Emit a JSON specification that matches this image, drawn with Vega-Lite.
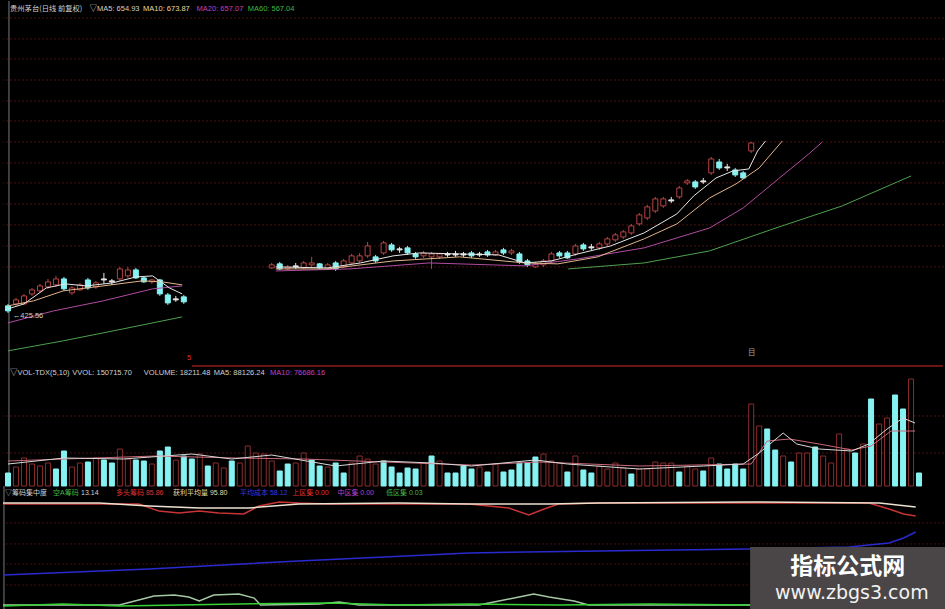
{
"$schema": "https://vega.github.io/schema/vega-lite/v6.json",
"background": "#000000",
"padding": 0,
"spacing": 0,
"bounds": "flush",
"config": {"view": {"stroke": null}, "legend": {"disable": true}},
"datasets": {
"border": [{"i": 0.12}],
"pgrid": [{"p":741.5},{"p":718.7},{"p":696.9},{"p":674.0},{"p":651.2},{"p":629.4},{"p":606.6},{"p":583.7},{"p":562.0},{"p":539.1},{"p":516.3},{"p":493.4},{"p":470.6}],
"candles": [
{"i":0,"o":428.2,"c":422.7,"h":430.3,"l":420.5,"t":"d"},
{"i":1,"o":430.3,"c":434.7,"h":436.9,"l":428.2,"t":"u"},
{"i":2,"o":430.3,"c":439.0,"h":441.2,"l":429.2,"t":"u"},
{"i":3,"o":441.2,"c":445.6,"h":447.7,"l":439.0,"t":"u"},
{"i":4,"o":444.5,"c":449.9,"h":452.1,"l":442.3,"t":"u"},
{"i":5,"o":448.8,"c":454.3,"h":457.5,"l":446.7,"t":"u"},
{"i":6,"o":451.0,"c":457.5,"h":460.8,"l":448.8,"t":"u"},
{"i":7,"o":457.5,"c":446.7,"h":459.7,"l":444.5,"t":"d"},
{"i":8,"o":442.3,"c":447.7,"h":449.9,"l":440.1,"t":"u"},
{"i":9,"o":445.6,"c":451.0,"h":453.2,"l":444.5,"t":"u"},
{"i":10,"o":456.4,"c":447.7,"h":458.6,"l":445.6,"t":"d"},
{"i":11,"o":448.8,"c":453.2,"h":455.4,"l":446.7,"t":"u"},
{"i":12,"o":456.4,"c":457.5,"h":464.1,"l":452.1,"t":"x"},
{"i":13,"o":454.3,"c":455.4,"h":457.5,"l":451.0,"t":"x"},
{"i":14,"o":457.5,"c":468.4,"h":470.6,"l":455.4,"t":"u"},
{"i":15,"o":460.8,"c":467.3,"h":470.6,"l":458.6,"t":"u"},
{"i":16,"o":467.3,"c":458.6,"h":469.5,"l":457.5,"t":"d"},
{"i":17,"o":458.6,"c":454.3,"h":459.7,"l":453.2,"t":"d"},
{"i":18,"o":454.3,"c":456.4,"h":457.5,"l":452.1,"t":"u"},
{"i":19,"o":456.4,"c":441.2,"h":457.5,"l":439.0,"t":"d"},
{"i":20,"o":440.1,"c":431.4,"h":442.3,"l":429.2,"t":"d"},
{"i":21,"o":434.7,"c":435.8,"h":439.0,"l":432.5,"t":"x"},
{"i":22,"o":438.0,"c":432.5,"h":440.1,"l":430.3,"t":"d"},
{"i":33,"o":469.5,"c":472.8,"h":474.9,"l":468.4,"t":"u"},
{"i":34,"o":473.9,"c":468.4,"h":476.0,"l":467.3,"t":"d"},
{"i":35,"o":468.4,"c":470.6,"h":472.8,"l":467.3,"t":"u"},
{"i":36,"o":470.6,"c":471.7,"h":474.9,"l":468.4,"t":"x"},
{"i":37,"o":469.5,"c":474.9,"h":477.1,"l":468.4,"t":"u"},
{"i":38,"o":472.8,"c":474.9,"h":481.5,"l":470.6,"t":"u"},
{"i":39,"o":473.9,"c":469.5,"h":474.9,"l":468.4,"t":"d"},
{"i":40,"o":469.5,"c":472.8,"h":474.9,"l":467.3,"t":"u"},
{"i":41,"o":474.9,"c":468.4,"h":477.1,"l":466.2,"t":"d"},
{"i":42,"o":470.6,"c":477.1,"h":479.3,"l":469.5,"t":"u"},
{"i":43,"o":474.9,"c":482.6,"h":484.7,"l":473.9,"t":"u"},
{"i":44,"o":477.1,"c":482.6,"h":485.8,"l":474.9,"t":"u"},
{"i":45,"o":482.6,"c":493.4,"h":497.8,"l":480.4,"t":"u"},
{"i":46,"o":481.5,"c":477.1,"h":483.6,"l":474.9,"t":"d"},
{"i":47,"o":485.8,"c":496.7,"h":498.9,"l":483.6,"t":"u"},
{"i":48,"o":494.5,"c":489.1,"h":496.7,"l":486.9,"t":"d"},
{"i":49,"o":489.1,"c":490.2,"h":492.4,"l":485.8,"t":"x"},
{"i":50,"o":491.3,"c":485.8,"h":493.4,"l":483.6,"t":"d"},
{"i":51,"o":484.7,"c":481.5,"h":486.9,"l":479.3,"t":"d"},
{"i":52,"o":482.6,"c":485.8,"h":488.0,"l":480.4,"t":"u"},
{"i":53,"o":481.5,"c":484.7,"h":486.9,"l":468.4,"t":"u"},
{"i":54,"o":481.5,"c":484.7,"h":485.8,"l":479.3,"t":"u"},
{"i":55,"o":483.6,"c":484.7,"h":486.9,"l":481.5,"t":"x"},
{"i":56,"o":483.6,"c":484.7,"h":488.0,"l":481.5,"t":"x"},
{"i":57,"o":483.6,"c":484.7,"h":486.9,"l":481.5,"t":"x"},
{"i":58,"o":485.8,"c":482.6,"h":488.0,"l":480.4,"t":"d"},
{"i":59,"o":483.6,"c":484.7,"h":486.9,"l":481.5,"t":"x"},
{"i":60,"o":486.9,"c":483.6,"h":489.1,"l":481.5,"t":"d"},
{"i":61,"o":483.6,"c":486.9,"h":489.1,"l":482.6,"t":"u"},
{"i":62,"o":489.1,"c":485.8,"h":491.3,"l":483.6,"t":"d"},
{"i":63,"o":485.8,"c":488.0,"h":490.2,"l":483.6,"t":"u"},
{"i":64,"o":484.7,"c":476.0,"h":486.9,"l":473.9,"t":"d"},
{"i":65,"o":477.1,"c":472.8,"h":479.3,"l":470.6,"t":"d"},
{"i":66,"o":470.6,"c":473.9,"h":476.0,"l":469.5,"t":"u"},
{"i":67,"o":472.8,"c":477.1,"h":479.3,"l":470.6,"t":"u"},
{"i":68,"o":477.1,"c":484.7,"h":486.9,"l":474.9,"t":"u"},
{"i":69,"o":485.8,"c":482.6,"h":488.0,"l":480.4,"t":"d"},
{"i":70,"o":485.8,"c":480.4,"h":488.0,"l":479.3,"t":"d"},
{"i":71,"o":484.7,"c":493.4,"h":495.6,"l":482.6,"t":"u"},
{"i":72,"o":494.5,"c":490.2,"h":496.7,"l":488.0,"t":"d"},
{"i":73,"o":491.3,"c":492.4,"h":495.6,"l":489.1,"t":"x"},
{"i":74,"o":491.3,"c":495.6,"h":497.8,"l":489.1,"t":"u"},
{"i":75,"o":495.6,"c":501.1,"h":503.2,"l":493.4,"t":"u"},
{"i":76,"o":500.0,"c":505.4,"h":507.6,"l":497.8,"t":"u"},
{"i":77,"o":503.2,"c":508.7,"h":510.8,"l":501.1,"t":"u"},
{"i":78,"o":507.6,"c":515.2,"h":517.4,"l":505.4,"t":"u"},
{"i":79,"o":517.4,"c":527.2,"h":529.3,"l":515.2,"t":"u"},
{"i":80,"o":523.9,"c":535.9,"h":538.0,"l":521.7,"t":"u"},
{"i":81,"o":531.5,"c":544.6,"h":546.8,"l":529.3,"t":"u"},
{"i":82,"o":537.0,"c":544.6,"h":546.8,"l":534.8,"t":"u"},
{"i":83,"o":542.4,"c":543.5,"h":546.8,"l":540.2,"t":"x"},
{"i":84,"o":546.8,"c":556.5,"h":558.7,"l":544.6,"t":"u"},
{"i":85,"o":562.0,"c":564.2,"h":566.3,"l":559.8,"t":"u"},
{"i":86,"o":563.1,"c":557.6,"h":565.2,"l":555.5,"t":"d"},
{"i":87,"o":563.1,"c":564.2,"h":567.4,"l":560.9,"t":"x"},
{"i":88,"o":572.9,"c":588.1,"h":590.3,"l":570.7,"t":"u"},
{"i":89,"o":584.8,"c":578.3,"h":588.1,"l":576.1,"t":"d"},
{"i":90,"o":578.3,"c":579.4,"h":582.7,"l":575.0,"t":"x"},
{"i":91,"o":576.1,"c":570.7,"h":578.3,"l":568.5,"t":"d"},
{"i":92,"o":572.9,"c":567.4,"h":575.0,"l":566.3,"t":"d"},
{"i":93,"o":596.8,"c":605.5,"h":606.6,"l":594.6,"t":"u"}
],
"pma": [
{"s":"MA60","seg":"L","i":0,"p":379.2},{"s":"MA60","seg":"L","i":6.9,"p":390.1},{"s":"MA60","seg":"L","i":14.4,"p":403.1},{"s":"MA60","seg":"L","i":21.8,"p":416.2},
{"s":"MA20","seg":"L","i":0,"p":409.7},{"s":"MA20","seg":"L","i":5.7,"p":422.7},{"s":"MA20","seg":"L","i":11.9,"p":433.6},{"s":"MA20","seg":"L","i":18.1,"p":446.7},{"s":"MA20","seg":"L","i":21.8,"p":449.9},
{"s":"MA10","seg":"L","i":0,"p":428.2},{"s":"MA10","seg":"L","i":3.2,"p":433.6},{"s":"MA10","seg":"L","i":6.9,"p":444.5},{"s":"MA10","seg":"L","i":11.9,"p":449.9},{"s":"MA10","seg":"L","i":16.8,"p":455.4},{"s":"MA10","seg":"L","i":19.3,"p":454.3},{"s":"MA10","seg":"L","i":21.8,"p":451.0},
{"s":"MA5","seg":"L","i":0,"p":424.9},{"s":"MA5","seg":"L","i":2,"p":430.3},{"s":"MA5","seg":"L","i":4.8,"p":447.7},{"s":"MA5","seg":"L","i":7.2,"p":452.1},{"s":"MA5","seg":"L","i":9.8,"p":449.9},{"s":"MA5","seg":"L","i":13.1,"p":453.2},{"s":"MA5","seg":"L","i":16,"p":459.7},{"s":"MA5","seg":"L","i":18.1,"p":460.8},{"s":"MA5","seg":"L","i":20.2,"p":447.7},{"s":"MA5","seg":"L","i":21.8,"p":441.2},
{"s":"MA60","seg":"R","i":70.1,"p":468.4},{"s":"MA60","seg":"R","i":79.6,"p":474.9},{"s":"MA60","seg":"R","i":87.8,"p":488.0},{"s":"MA60","seg":"R","i":96.1,"p":513.0},{"s":"MA60","seg":"R","i":104.4,"p":537.0},{"s":"MA60","seg":"R","i":113,"p":569.6},
{"s":"MA20","seg":"R","i":33.5,"p":466.2},{"s":"MA20","seg":"R","i":42.8,"p":468.4},{"s":"MA20","seg":"R","i":52.7,"p":474.9},{"s":"MA20","seg":"R","i":64.7,"p":471.7},{"s":"MA20","seg":"R","i":71.3,"p":479.3},{"s":"MA20","seg":"R","i":79.6,"p":491.3},{"s":"MA20","seg":"R","i":87.8,"p":513.0},{"s":"MA20","seg":"R","i":92,"p":534.8},{"s":"MA20","seg":"R","i":96.1,"p":564.2},{"s":"MA20","seg":"R","i":100.2,"p":593.5},{"s":"MA20","seg":"R","i":101.9,"p":606.6},
{"s":"MA10","seg":"R","i":33.5,"p":468.4},{"s":"MA10","seg":"R","i":40,"p":468.4},{"s":"MA10","seg":"R","i":48.2,"p":477.1},{"s":"MA10","seg":"R","i":56.5,"p":481.5},{"s":"MA10","seg":"R","i":64.7,"p":474.9},{"s":"MA10","seg":"R","i":68.8,"p":473.9},{"s":"MA10","seg":"R","i":73.8,"p":481.5},{"s":"MA10","seg":"R","i":79.6,"p":501.1},{"s":"MA10","seg":"R","i":83.7,"p":517.4},{"s":"MA10","seg":"R","i":87.8,"p":545.7},{"s":"MA10","seg":"R","i":91.1,"p":560.9},{"s":"MA10","seg":"R","i":94,"p":578.3},{"s":"MA10","seg":"R","i":96.9,"p":607.7},
{"s":"MA5","seg":"R","i":33.5,"p":470.6},{"s":"MA5","seg":"R","i":40,"p":469.5},{"s":"MA5","seg":"R","i":44.1,"p":474.9},{"s":"MA5","seg":"R","i":48.2,"p":482.6},{"s":"MA5","seg":"R","i":51.5,"p":485.8},{"s":"MA5","seg":"R","i":56.5,"p":484.7},{"s":"MA5","seg":"R","i":61.4,"p":483.6},{"s":"MA5","seg":"R","i":64.7,"p":474.9},{"s":"MA5","seg":"R","i":68,"p":477.1},{"s":"MA5","seg":"R","i":71.3,"p":484.7},{"s":"MA5","seg":"R","i":75.4,"p":493.4},{"s":"MA5","seg":"R","i":79.6,"p":507.6},{"s":"MA5","seg":"R","i":83.7,"p":528.3},{"s":"MA5","seg":"R","i":85.8,"p":547.8},{"s":"MA5","seg":"R","i":88.6,"p":567.4},{"s":"MA5","seg":"R","i":90.7,"p":575.0},{"s":"MA5","seg":"R","i":92.7,"p":577.2},{"s":"MA5","seg":"R","i":93.8,"p":596.8},{"s":"MA5","seg":"R","i":94.8,"p":607.7}
],
"ptext": [
{"i":10.2,"p":751,"label":"▽MA5: 654.93","k":"w"},
{"i":16.9,"p":751,"label":"MA10: 673.87","k":"y"},
{"i":23.6,"p":751,"label":"MA20: 657.07","k":"m"},
{"i":30.0,"p":751,"label":"MA60: 567.04","k":"g"},
{"i":0.6,"p":417.3,"label":"←425.56","k":"w"},
{"i":22.4,"p":371,"label":"5","k":"r"},
{"i":92.6,"p":377,"label":"目","k":"gy"}
],
"ptitle": [{"i":0.25,"p":751,"label":"贵州茅台(日线 前复权)"}],
"vgrid": [{"v":98000},{"v":46200}],
"vtop": [{"i":23,"i2":117,"v":168000}],
"vol": [
{"i":0,"v":18200,"t":"d"},{"i":1,"v":26600,"t":"u"},{"i":2,"v":39200,"t":"u"},{"i":3,"v":30800,"t":"u"},{"i":4,"v":28000,"t":"u"},{"i":5,"v":32200,"t":"u"},{"i":6,"v":23800,"t":"d"},{"i":7,"v":49000,"t":"d"},{"i":8,"v":26600,"t":"u"},{"i":9,"v":32200,"t":"u"},
{"i":10,"v":33600,"t":"d"},{"i":11,"v":39200,"t":"u"},{"i":12,"v":36400,"t":"d"},{"i":13,"v":32200,"t":"d"},{"i":14,"v":51800,"t":"u"},{"i":15,"v":37800,"t":"u"},{"i":16,"v":36400,"t":"d"},{"i":17,"v":35000,"t":"d"},{"i":18,"v":30800,"t":"u"},{"i":19,"v":49000,"t":"d"},
{"i":20,"v":54600,"t":"d"},{"i":21,"v":36400,"t":"u"},{"i":22,"v":42000,"t":"d"},{"i":23,"v":37800,"t":"d"},{"i":24,"v":44800,"t":"u"},{"i":25,"v":28000,"t":"d"},{"i":26,"v":32200,"t":"u"},{"i":27,"v":25200,"t":"u"},{"i":28,"v":35000,"t":"d"},{"i":29,"v":32200,"t":"u"},
{"i":30,"v":56000,"t":"u"},{"i":31,"v":46200,"t":"u"},{"i":32,"v":44800,"t":"u"},{"i":33,"v":35000,"t":"u"},{"i":34,"v":21000,"t":"d"},{"i":35,"v":30800,"t":"d"},{"i":36,"v":32200,"t":"u"},{"i":37,"v":46200,"t":"u"},{"i":38,"v":36400,"t":"d"},{"i":39,"v":28000,"t":"d"},
{"i":40,"v":26600,"t":"u"},{"i":41,"v":32200,"t":"d"},{"i":42,"v":18200,"t":"d"},{"i":43,"v":32200,"t":"u"},{"i":44,"v":42000,"t":"u"},{"i":45,"v":37800,"t":"u"},{"i":46,"v":30800,"t":"u"},{"i":47,"v":35000,"t":"d"},{"i":48,"v":26600,"t":"d"},{"i":49,"v":18200,"t":"d"},
{"i":50,"v":25200,"t":"d"},{"i":51,"v":23800,"t":"d"},{"i":52,"v":32200,"t":"u"},{"i":53,"v":42000,"t":"d"},{"i":54,"v":35000,"t":"u"},{"i":55,"v":18200,"t":"d"},{"i":56,"v":18200,"t":"d"},{"i":57,"v":28000,"t":"d"},{"i":58,"v":23800,"t":"d"},{"i":59,"v":26600,"t":"u"},
{"i":60,"v":19600,"t":"d"},{"i":61,"v":30800,"t":"u"},{"i":62,"v":19600,"t":"d"},{"i":63,"v":22400,"t":"d"},{"i":64,"v":32200,"t":"d"},{"i":65,"v":32200,"t":"d"},{"i":66,"v":40600,"t":"d"},{"i":67,"v":44800,"t":"u"},{"i":68,"v":35000,"t":"u"},{"i":69,"v":32200,"t":"u"},
{"i":70,"v":19600,"t":"d"},{"i":71,"v":42000,"t":"u"},{"i":72,"v":22400,"t":"d"},{"i":73,"v":18200,"t":"d"},{"i":74,"v":28000,"t":"u"},{"i":75,"v":23800,"t":"u"},{"i":76,"v":32200,"t":"u"},{"i":77,"v":25200,"t":"u"},{"i":78,"v":16800,"t":"d"},{"i":79,"v":23800,"t":"u"},
{"i":80,"v":23800,"t":"u"},{"i":81,"v":33600,"t":"u"},{"i":82,"v":32200,"t":"u"},{"i":83,"v":32200,"t":"u"},{"i":84,"v":19600,"t":"d"},{"i":85,"v":28000,"t":"u"},{"i":86,"v":23800,"t":"u"},{"i":87,"v":21000,"t":"d"},{"i":88,"v":39200,"t":"u"},{"i":89,"v":30800,"t":"d"},
{"i":90,"v":23800,"t":"d"},{"i":91,"v":30800,"t":"d"},{"i":92,"v":23800,"t":"d"},{"i":93,"v":114800,"t":"u"},{"i":94,"v":84000,"t":"u"},{"i":95,"v":79800,"t":"d"},{"i":96,"v":50400,"t":"d"},{"i":97,"v":42000,"t":"u"},{"i":98,"v":33600,"t":"d"},{"i":99,"v":46200,"t":"u"},
{"i":100,"v":46200,"t":"u"},{"i":101,"v":54600,"t":"d"},{"i":102,"v":42000,"t":"u"},{"i":103,"v":32200,"t":"u"},{"i":104,"v":72800,"t":"u"},{"i":105,"v":51800,"t":"u"},{"i":106,"v":46200,"t":"d"},{"i":107,"v":58800,"t":"u"},{"i":108,"v":121800,"t":"d"},{"i":109,"v":86800,"t":"u"},
{"i":110,"v":95200,"t":"u"},{"i":111,"v":127400,"t":"d"},{"i":112,"v":107800,"t":"d"},{"i":113,"v":149800,"t":"u"},{"i":114,"v":18200,"t":"d"}
],
"vma": [
{"s":"MA10","i":0,"v":35000},{"s":"MA10","i":7,"v":37800},{"s":"MA10","i":18.5,"v":42000},{"s":"MA10","i":28.5,"v":39200},{"s":"MA10","i":37,"v":37800},{"s":"MA10","i":47,"v":33600},{"s":"MA10","i":58,"v":29400},{"s":"MA10","i":66.5,"v":33600},{"s":"MA10","i":79,"v":28000},{"s":"MA10","i":93,"v":30800},{"s":"MA10","i":95,"v":63000},{"s":"MA10","i":97.8,"v":65800},{"s":"MA10","i":101.5,"v":58800},{"s":"MA10","i":105.6,"v":50400},{"s":"MA10","i":108,"v":56000},{"s":"MA10","i":110.5,"v":77000},{"s":"MA10","i":113.5,"v":77000},
{"s":"MA5","i":0,"v":30800},{"s":"MA5","i":7,"v":39200},{"s":"MA5","i":14.4,"v":37800},{"s":"MA5","i":23,"v":44800},{"s":"MA5","i":28,"v":37800},{"s":"MA5","i":33,"v":43400},{"s":"MA5","i":41,"v":28000},{"s":"MA5","i":47,"v":35000},{"s":"MA5","i":53,"v":32200},{"s":"MA5","i":58,"v":28000},{"s":"MA5","i":66,"v":36400},{"s":"MA5","i":70,"v":30800},{"s":"MA5","i":79,"v":23800},{"s":"MA5","i":87,"v":28000},{"s":"MA5","i":92,"v":30800},{"s":"MA5","i":94,"v":46200},{"s":"MA5","i":97,"v":74200},{"s":"MA5","i":98.7,"v":58800},{"s":"MA5","i":101.5,"v":51800},{"s":"MA5","i":105.6,"v":49000},{"s":"MA5","i":107.7,"v":58800},{"s":"MA5","i":110,"v":79800},{"s":"MA5","i":112,"v":95200},{"s":"MA5","i":113.5,"v":88200}
],
"vtext": [
{"i":0.25,"v":158200,"label":"▽VOL-TDX(5,10)","k":"w"},
{"i":8.05,"v":158200,"label":"VVOL: 150715.70","k":"w"},
{"i":17.0,"v":158200,"label":"VOLUME: 18211.48","k":"w"},
{"i":25.75,"v":158200,"label":"MA5: 88126.24","k":"w"},
{"i":32.8,"v":158200,"label":"MA10: 76686.16","k":"m"}
],
"igrid": [{"v":77.2},{"v":58.6},{"v":40.8},{"v":22.2}],
"ilines": [
{"s":"gp","i":0,"v":4.4},{"s":"gp","i":14.4,"v":4.4},{"s":"gp","i":16.8,"v":8.9},{"s":"gp","i":18.7,"v":12.4},{"s":"gp","i":21.2,"v":13.3},{"s":"gp","i":23,"v":11.5},{"s":"gp","i":24.3,"v":8.0},{"s":"gp","i":26.1,"v":13.3},{"s":"gp","i":29.2,"v":14.2},{"s":"gp","i":31.1,"v":10.6},{"s":"gp","i":31.9,"v":4.4},{"s":"gp","i":39.1,"v":5.3},{"s":"gp","i":41.6,"v":7.1},{"s":"gp","i":44.1,"v":4.4},{"s":"gp","i":58.9,"v":4.4},{"s":"gp","i":61.4,"v":8.0},{"s":"gp","i":63.9,"v":11.5},{"s":"gp","i":65.7,"v":14.2},{"s":"gp","i":67.6,"v":11.5},{"s":"gp","i":70.7,"v":8.0},{"s":"gp","i":72.5,"v":4.4},{"s":"gp","i":113,"v":4.4},
{"s":"gb","i":0,"v":3.5},{"s":"gb","i":7.4,"v":5.3},{"s":"gb","i":14.4,"v":3.5},{"s":"gb","i":21.8,"v":4.4},{"s":"gb","i":29.2,"v":5.3},{"s":"gb","i":40.4,"v":6.2},{"s":"gb","i":49,"v":4.4},{"s":"gb","i":57.7,"v":5.3},{"s":"gb","i":68.8,"v":4.4},{"s":"gb","i":80,"v":5.3},{"s":"gb","i":92.4,"v":4.4},{"s":"gb","i":113,"v":4.4},
{"s":"bl","i":0,"v":31.1},{"s":"bl","i":18.1,"v":36.4},{"s":"bl","i":36.6,"v":43.5},{"s":"bl","i":57.7,"v":50.6},{"s":"bl","i":73.8,"v":52.4},{"s":"bl","i":92.4,"v":54.1},{"s":"bl","i":104.7,"v":55.9},{"s":"bl","i":109.7,"v":59.4},{"s":"bl","i":111.5,"v":63.9},{"s":"bl","i":113,"v":69.2},
{"s":"rd","i":0,"v":94.1},{"s":"rd","i":16.8,"v":94.1},{"s":"rd","i":19.3,"v":87.8},{"s":"rd","i":21.8,"v":86.1},{"s":"rd","i":24.3,"v":87.8},{"s":"rd","i":26.7,"v":86.1},{"s":"rd","i":29.8,"v":85.2},{"s":"rd","i":31.7,"v":92.3},{"s":"rd","i":34.2,"v":95.8},{"s":"rd","i":36.6,"v":94.9},{"s":"rd","i":40.4,"v":94.1},{"s":"rd","i":57.7,"v":94.1},{"s":"rd","i":62.6,"v":90.5},{"s":"rd","i":65.1,"v":84.3},{"s":"rd","i":67,"v":89.6},{"s":"rd","i":68.8,"v":94.1},{"s":"rd","i":73.8,"v":94.9},{"s":"rd","i":107.2,"v":94.9},{"s":"rd","i":109.7,"v":89.6},{"s":"rd","i":111.5,"v":85.2},{"s":"rd","i":113,"v":83.4},
{"s":"wh","i":0,"v":94.9},{"s":"wh","i":11.9,"v":94.9},{"s":"wh","i":18.1,"v":92.3},{"s":"wh","i":24.3,"v":90.5},{"s":"wh","i":30.5,"v":90.5},{"s":"wh","i":36.6,"v":94.1},{"s":"wh","i":49,"v":94.9},{"s":"wh","i":57.7,"v":94.1},{"s":"wh","i":67.6,"v":94.1},{"s":"wh","i":73.8,"v":94.9},{"s":"wh","i":92.4,"v":95.8},{"s":"wh","i":108.5,"v":94.9},{"s":"wh","i":113,"v":91.4}
],
"itext": [
{"i":0.25,"v":103.8,"label":"▽筹码集中度","k":"w"},
{"i":6.19,"v":103.8,"label":"空A筹码","k":"g"},
{"i":9.66,"v":103.8,"label":"13.14","k":"w"},
{"i":13.99,"v":103.8,"label":"多头筹码 85.86","k":"r"},
{"i":21.05,"v":103.8,"label":"获利平均量 95.80","k":"y"},
{"i":29.34,"v":103.8,"label":"平均成本 58.12","k":"b"},
{"i":35.8,"v":103.8,"label":"上区集 0.00","k":"r"},
{"i":41.4,"v":103.8,"label":"中区集 0.00","k":"m"},
{"i":47.42,"v":103.8,"label":"低区集 0.03","k":"g"}
],
"wm": [{"i":92.5,"i2":117,"v":55.9,"v2":0}],
"wm1": [{"i":104.6,"v":38.2,"label":"指标公式网"}],
"wm2": [{"i":105.1,"v":15.1,"label":"www.zbgs3.com"}]
},
"vconcat": [
{
"width": 945, "height": 362,
"resolve": {"scale": {"fill": "independent", "stroke": "independent", "color": "independent"}},
"layer": [
{"data": {"name": "pgrid"}, "mark": {"type": "rule", "stroke": "#4a1010", "strokeDash": [2, 2]},
 "encoding": {"y": {"field": "p", "type": "quantitative", "scale": {"domain": [366, 760], "nice": false, "zero": false}, "axis": null}}},
{"data": {"name": "border"}, "mark": {"type": "rule", "stroke": "#7a7a7a"},
 "encoding": {"x": {"field": "i", "type": "quantitative", "scale": {"domain": [0, 117], "nice": false, "zero": false}, "axis": null}}},
{"data": {"name": "candles"}, "mark": {"type": "rule", "strokeWidth": 1},
 "encoding": {
  "x": {"field": "i", "type": "quantitative", "scale": {"domain": [0, 117], "nice": false, "zero": false}, "axis": null},
  "y": {"field": "l", "type": "quantitative", "scale": {"domain": [366, 760], "nice": false, "zero": false}, "axis": null},
  "y2": {"field": "h"},
  "stroke": {"field": "t", "type": "nominal", "scale": {"domain": ["u", "d", "x"], "range": ["#b84444", "#86f2f2", "#e6e6e6"]}, "legend": null}}},
{"data": {"name": "candles"}, "mark": {"type": "bar", "size": 5, "strokeWidth": 1},
 "encoding": {
  "x": {"field": "i", "type": "quantitative", "scale": {"domain": [0, 117], "nice": false, "zero": false}, "axis": null},
  "y": {"field": "o", "type": "quantitative", "scale": {"domain": [366, 760], "nice": false, "zero": false}, "axis": null},
  "y2": {"field": "c"},
  "fill": {"field": "t", "type": "nominal", "scale": {"domain": ["u", "d", "x"], "range": ["#000000", "#86f2f2", "#e6e6e6"]}, "legend": null},
  "stroke": {"field": "t", "type": "nominal", "scale": {"domain": ["u", "d", "x"], "range": ["#b84444", "#86f2f2", "#e6e6e6"]}, "legend": null}}},
{"data": {"name": "pma"}, "mark": {"type": "line", "strokeWidth": 1},
 "encoding": {
  "x": {"field": "i", "type": "quantitative", "scale": {"domain": [0, 117], "nice": false, "zero": false}, "axis": null},
  "y": {"field": "p", "type": "quantitative", "scale": {"domain": [366, 760], "nice": false, "zero": false}, "axis": null},
  "stroke": {"field": "s", "type": "nominal", "scale": {"domain": ["MA5", "MA10", "MA20", "MA60"], "range": ["#e6e6e6", "#e0b48c", "#b04ca0", "#4ea04e"]}, "legend": null},
  "detail": {"field": "seg", "type": "nominal"}}},
{"data": {"name": "ptext"}, "mark": {"type": "text", "align": "left", "baseline": "middle", "fontSize": 7.5, "font": "Liberation Sans, Noto Sans CJK SC"},
 "encoding": {
  "x": {"field": "i", "type": "quantitative", "scale": {"domain": [0, 117], "nice": false, "zero": false}, "axis": null},
  "y": {"field": "p", "type": "quantitative", "scale": {"domain": [366, 760], "nice": false, "zero": false}, "axis": null},
  "text": {"field": "label", "type": "nominal"},
  "fill": {"field": "k", "type": "nominal", "scale": {"domain": ["w", "y", "m", "g", "r", "b", "gy"], "range": ["#d0d0d0", "#e8dca0", "#c040c0", "#40b840", "#e03030", "#3838e0", "#a0a0a0"]}, "legend": null}}},
{"data": {"name": "ptitle"}, "mark": {"type": "text", "align": "left", "baseline": "middle", "fontSize": 7.3, "font": "Noto Sans CJK SC", "fill": "#d0d0d0"},
 "encoding": {
  "x": {"field": "i", "type": "quantitative", "scale": {"domain": [0, 117], "nice": false, "zero": false}, "axis": null},
  "y": {"field": "p", "type": "quantitative", "scale": {"domain": [366, 760], "nice": false, "zero": false}, "axis": null},
  "text": {"field": "label", "type": "nominal"}}}
]
},
{
"width": 945, "height": 123,
"resolve": {"scale": {"fill": "independent", "stroke": "independent", "color": "independent"}},
"layer": [
{"data": {"name": "vgrid"}, "mark": {"type": "rule", "stroke": "#4a1010", "strokeDash": [2, 2]},
 "encoding": {"y": {"field": "v", "type": "quantitative", "scale": {"domain": [0, 172200], "nice": false, "zero": false}, "axis": null}}},
{"data": {"name": "border"}, "mark": {"type": "rule", "stroke": "#7a7a7a"},
 "encoding": {"x": {"field": "i", "type": "quantitative", "scale": {"domain": [0, 117], "nice": false, "zero": false}, "axis": null}}},
{"data": {"name": "vtop"}, "mark": {"type": "rule", "stroke": "#8c1c1c", "strokeWidth": 1.5},
 "encoding": {
  "x": {"field": "i", "type": "quantitative", "scale": {"domain": [0, 117], "nice": false, "zero": false}, "axis": null},
  "x2": {"field": "i2"},
  "y": {"field": "v", "type": "quantitative", "scale": {"domain": [0, 172200], "nice": false, "zero": false}, "axis": null}}},
{"data": {"name": "vol"}, "mark": {"type": "bar", "size": 5, "strokeWidth": 1},
 "encoding": {
  "x": {"field": "i", "type": "quantitative", "scale": {"domain": [0, 117], "nice": false, "zero": false}, "axis": null},
  "y": {"field": "v", "type": "quantitative", "scale": {"domain": [0, 172200], "nice": false, "zero": false}, "axis": null},
  "fill": {"field": "t", "type": "nominal", "scale": {"domain": ["u", "d"], "range": ["#000000", "#86f2f2"]}, "legend": null},
  "stroke": {"field": "t", "type": "nominal", "scale": {"domain": ["u", "d"], "range": ["#8c2c2c", "#86f2f2"]}, "legend": null}}},
{"data": {"name": "vma"}, "mark": {"type": "line", "strokeWidth": 1},
 "encoding": {
  "x": {"field": "i", "type": "quantitative", "scale": {"domain": [0, 117], "nice": false, "zero": false}, "axis": null},
  "y": {"field": "v", "type": "quantitative", "scale": {"domain": [0, 172200], "nice": false, "zero": false}, "axis": null},
  "stroke": {"field": "s", "type": "nominal", "scale": {"domain": ["MA5", "MA10"], "range": ["#d8d8d8", "#c86a7a"]}, "legend": null}}},
{"data": {"name": "vtext"}, "mark": {"type": "text", "align": "left", "baseline": "middle", "fontSize": 7.5, "font": "Liberation Sans, Noto Sans CJK SC"},
 "encoding": {
  "x": {"field": "i", "type": "quantitative", "scale": {"domain": [0, 117], "nice": false, "zero": false}, "axis": null},
  "y": {"field": "v", "type": "quantitative", "scale": {"domain": [0, 172200], "nice": false, "zero": false}, "axis": null},
  "text": {"field": "label", "type": "nominal"},
  "fill": {"field": "k", "type": "nominal", "scale": {"domain": ["w", "m"], "range": ["#d0d0d0", "#c040c0"]}, "legend": null}}}
]
},
{
"width": 945, "height": 124,
"resolve": {"scale": {"fill": "independent", "stroke": "independent", "color": "independent"}},
"layer": [
{"data": {"name": "igrid"}, "mark": {"type": "rule", "stroke": "#401010", "strokeDash": [2, 2]},
 "encoding": {"y": {"field": "v", "type": "quantitative", "scale": {"domain": [0, 110], "nice": false, "zero": false}, "axis": null}}},
{"data": {"name": "border"}, "mark": {"type": "rule", "stroke": "#7a7a7a"},
 "encoding": {"x": {"field": "i", "type": "quantitative", "scale": {"domain": [0, 117], "nice": false, "zero": false}, "axis": null}}},
{"data": {"name": "ilines"}, "mark": {"type": "line", "strokeWidth": 1.5},
 "encoding": {
  "x": {"field": "i", "type": "quantitative", "scale": {"domain": [0, 117], "nice": false, "zero": false}, "axis": null},
  "y": {"field": "v", "type": "quantitative", "scale": {"domain": [0, 110], "nice": false, "zero": false}, "axis": null},
  "stroke": {"field": "s", "type": "nominal", "scale": {"domain": ["gp", "gb", "bl", "rd", "wh"], "range": ["#a4c8a4", "#36d236", "#2a2ad0", "#c83434", "#ece2d0"]}, "legend": null}}},
{"data": {"name": "wm"}, "mark": {"type": "rect", "fill": "#4a4647"},
 "encoding": {
  "x": {"field": "i", "type": "quantitative", "scale": {"domain": [0, 117], "nice": false, "zero": false}, "axis": null},
  "x2": {"field": "i2"},
  "y": {"field": "v", "type": "quantitative", "scale": {"domain": [0, 110], "nice": false, "zero": false}, "axis": null},
  "y2": {"field": "v2"}}},
{"data": {"name": "wm1"}, "mark": {"type": "text", "align": "center", "baseline": "middle", "fontSize": 23, "fontWeight": "bold", "font": "Noto Sans CJK SC", "fill": "#ffffff"},
 "encoding": {
  "x": {"field": "i", "type": "quantitative", "scale": {"domain": [0, 117], "nice": false, "zero": false}, "axis": null},
  "y": {"field": "v", "type": "quantitative", "scale": {"domain": [0, 110], "nice": false, "zero": false}, "axis": null},
  "text": {"field": "label", "type": "nominal"}}},
{"data": {"name": "wm2"}, "mark": {"type": "text", "align": "center", "baseline": "middle", "fontSize": 19, "font": "DejaVu Sans", "fill": "#f2f2f2"},
 "encoding": {
  "x": {"field": "i", "type": "quantitative", "scale": {"domain": [0, 117], "nice": false, "zero": false}, "axis": null},
  "y": {"field": "v", "type": "quantitative", "scale": {"domain": [0, 110], "nice": false, "zero": false}, "axis": null},
  "text": {"field": "label", "type": "nominal"}}},
{"data": {"name": "itext"}, "mark": {"type": "text", "align": "left", "baseline": "middle", "fontSize": 7, "font": "Liberation Sans, Noto Sans CJK SC"},
 "encoding": {
  "x": {"field": "i", "type": "quantitative", "scale": {"domain": [0, 117], "nice": false, "zero": false}, "axis": null},
  "y": {"field": "v", "type": "quantitative", "scale": {"domain": [0, 110], "nice": false, "zero": false}, "axis": null},
  "text": {"field": "label", "type": "nominal"},
  "fill": {"field": "k", "type": "nominal", "scale": {"domain": ["w", "y", "m", "g", "r", "b"], "range": ["#d0d0d0", "#e8dca0", "#c040c0", "#40b840", "#e03030", "#3838e0"]}, "legend": null}}}
]
}
]
}
